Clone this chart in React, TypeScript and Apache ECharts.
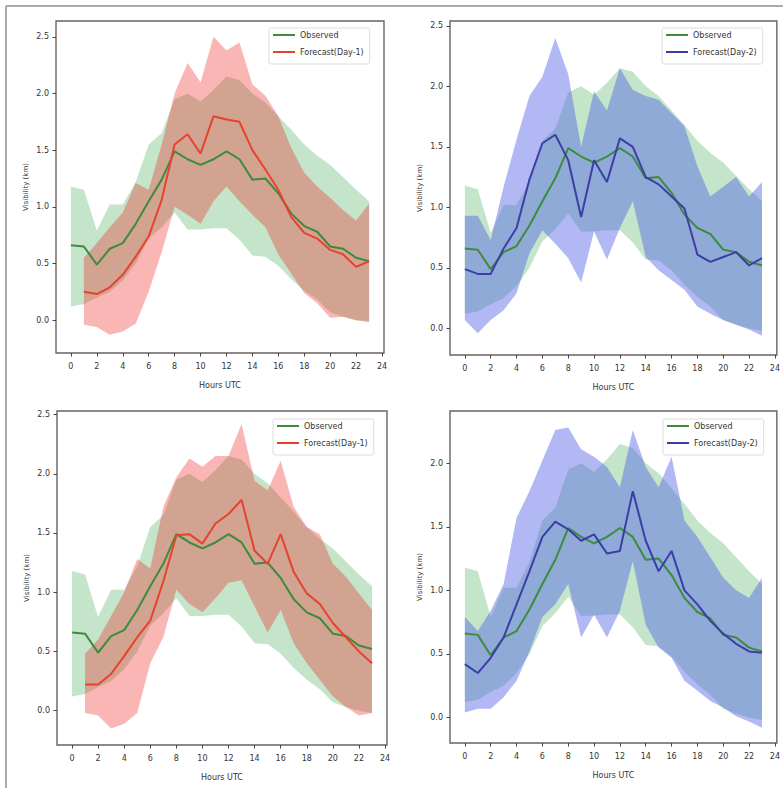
import React, { useEffect, useRef } from "react";
import * as echarts from "echarts";

// ---- data ----
const hours = [0, 1, 2, 3, 4, 5, 6, 7, 8, 9, 10, 11, 12, 13, 14, 15, 16, 17, 18, 19, 20, 21, 22, 23];
const day1Hours = [1, 2, 3, 4, 5, 6, 7, 8, 9, 10, 11, 12, 13, 14, 15, 16, 17, 18, 19, 20, 21, 22, 23];
const xTicks = [0, 2, 4, 6, 8, 10, 12, 14, 16, 18, 20, 22, 24];
const yTicksA = [0, 0.5, 1.0, 1.5, 2.0, 2.5];
const yTicksB = [0, 0.5, 1.0, 1.5, 2.0];

const observed = [0.66, 0.65, 0.49, 0.63, 0.68, 0.85, 1.05, 1.24, 1.49, 1.42, 1.37, 1.42, 1.49, 1.42, 1.24, 1.25, 1.12, 0.94, 0.83, 0.78, 0.65, 0.63, 0.55, 0.52];
const observedUpper = [1.18, 1.15, 0.79, 1.02, 1.02, 1.22, 1.55, 1.65, 1.95, 2.0, 1.93, 2.03, 2.15, 2.12, 2.0, 1.92, 1.8, 1.68, 1.55, 1.45, 1.37, 1.26, 1.15, 1.05];
const observedLower = [0.12, 0.14, 0.2, 0.25, 0.35, 0.5, 0.72, 0.82, 0.95, 0.8, 0.8, 0.81, 0.81, 0.71, 0.57, 0.56, 0.48, 0.36, 0.26, 0.18, 0.07, 0.03, 0.0, -0.02];

// top-left: Forecast(Day-1)
const fc1Line = [0.25, 0.23, 0.29, 0.4, 0.56, 0.74, 1.06, 1.55, 1.64, 1.47, 1.8, 1.77, 1.75, 1.5, 1.33, 1.15, 0.91, 0.77, 0.72, 0.62, 0.58, 0.47, 0.52];
const fc1Upper = [0.55, 0.68, 0.82, 0.95, 1.21, 1.15, 1.55, 2.0, 2.27, 2.1, 2.5, 2.38, 2.45, 2.08, 1.98, 1.8, 1.52, 1.3, 1.18, 1.08, 0.97, 0.88, 1.03];
const fc1Lower = [-0.04, -0.06, -0.13, -0.1, -0.03, 0.25, 0.6, 1.0, 0.93, 0.85, 1.05, 1.18, 1.05, 0.93, 0.82, 0.58, 0.41, 0.24, 0.15, 0.02, 0.03, 0.0, -0.01];

// top-right: Forecast(Day-2)
const fc2Line = [0.49, 0.45, 0.45, 0.66, 0.83, 1.23, 1.53, 1.6, 1.39, 0.92, 1.39, 1.21, 1.57, 1.5, 1.25, 1.19, 1.09, 0.99, 0.61, 0.55, 0.59, 0.63, 0.52, 0.58];
const fc2Upper = [0.93, 0.93, 0.73, 1.17, 1.56, 1.92, 2.08, 2.4, 2.1, 1.5, 1.96, 1.8, 2.15, 1.97, 1.92, 1.89, 1.78, 1.67, 1.34, 1.09, 1.17, 1.25, 1.09, 1.21];
const fc2Lower = [0.07, -0.04, 0.07, 0.15, 0.29, 0.62, 0.81, 0.7, 0.58, 0.38, 0.8, 0.57, 0.83, 1.05, 0.59, 0.48, 0.4, 0.32, 0.18, 0.12, 0.07, 0.03, -0.01, -0.06];

// bottom-left: Forecast(Day-1)
const fc3Line = [0.22, 0.22, 0.31, 0.46, 0.62, 0.76, 1.09, 1.48, 1.49, 1.41, 1.58, 1.66, 1.78, 1.35, 1.24, 1.49, 1.17, 0.99, 0.9, 0.74, 0.62, 0.5, 0.4];
const fc3Upper = [0.48, 0.6, 0.8, 1.0, 1.28, 1.2, 1.72, 1.97, 2.13, 2.06, 2.15, 2.15, 2.42, 1.94, 1.86, 2.11, 1.72, 1.55, 1.49, 1.24, 1.13, 0.99, 0.85];
const fc3Lower = [-0.02, -0.04, -0.15, -0.11, -0.02, 0.4, 0.62, 1.02, 0.9, 0.83, 0.95, 1.08, 1.1, 0.88, 0.66, 0.85, 0.57, 0.4, 0.26, 0.12, 0.03, -0.04, -0.02];

// bottom-right: Forecast(Day-2)
const fc4Line = [0.42, 0.35, 0.47, 0.63, 0.89, 1.15, 1.42, 1.54, 1.48, 1.39, 1.44, 1.29, 1.31, 1.78, 1.39, 1.15, 1.31, 1.0, 0.89, 0.76, 0.66, 0.58, 0.52, 0.51];
const fc4Upper = [0.79, 0.68, 0.84, 1.05, 1.57, 1.78, 2.02, 2.26, 2.28, 2.11, 2.05, 1.97, 1.81, 2.26, 1.97, 1.81, 2.05, 1.55, 1.42, 1.26, 1.1, 1.0, 0.94, 1.1];
const fc4Lower = [0.04, 0.07, 0.07, 0.16, 0.29, 0.52, 0.79, 0.89, 1.05, 0.63, 0.81, 0.63, 0.84, 1.23, 0.73, 0.55, 0.47, 0.29, 0.21, 0.13, 0.08, 0.01, -0.03, -0.08];

const names = { obs: "Observed", d1: "Forecast(Day-1)", d2: "Forecast(Day-2)" };

// ---- styles ----
const GREEN = "#3d8b3d";
const GREEN_FILL = "rgb(60,170,80)";
const RED = "#e5432e";
const RED_FILL = "rgb(240,30,30)";
const BLUE = "#3d3da6";
const PURPLE_FILL = "rgb(82,98,230)";
const FONT = "DejaVu Sans";

type Panel = {
  left: number; top: number; width: number; height: number;
  yMin: number; yMax: number; yTicks: number[];
  fcHours: number[]; line: number[]; upper: number[]; lower: number[];
  name: string; color: string; fill: string; fillOpacity: number;
  legendLeft: number; legendTop: number;
};

const panels: Panel[] = [
  { left: 56, top: 21, width: 328, height: 332, yMin: -0.29, yMax: 2.64, yTicks: yTicksA,
    fcHours: day1Hours, line: fc1Line, upper: fc1Upper, lower: fc1Lower,
    name: names.d1, color: RED, fill: RED_FILL, fillOpacity: 0.33, legendLeft: 269, legendTop: 28 },
  { left: 450, top: 21, width: 329, height: 334, yMin: -0.22, yMax: 2.54, yTicks: yTicksA,
    fcHours: hours, line: fc2Line, upper: fc2Upper, lower: fc2Lower,
    name: names.d2, color: BLUE, fill: PURPLE_FILL, fillOpacity: 0.45, legendLeft: 662, legendTop: 28 },
  { left: 57, top: 411, width: 330, height: 334, yMin: -0.29, yMax: 2.53, yTicks: yTicksA,
    fcHours: day1Hours, line: fc3Line, upper: fc3Upper, lower: fc3Lower,
    name: names.d1, color: RED, fill: RED_FILL, fillOpacity: 0.33, legendLeft: 273, legendTop: 419 },
  { left: 450, top: 411, width: 329, height: 332, yMin: -0.2, yMax: 2.41, yTicks: yTicksB,
    fcHours: hours, line: fc4Line, upper: fc4Upper, lower: fc4Lower,
    name: names.d2, color: BLUE, fill: PURPLE_FILL, fillOpacity: 0.45, legendLeft: 663, legendTop: 419 },
];

// band drawn as one polygon through the axis scales (api.coord)
function bandSeries(i: number, xs: number[], lower: number[], upper: number[], fill: string, opacity: number, z: number) {
  const data = xs.map((h, k) => [h, lower[k], upper[k]]);
  return {
    type: "custom", xAxisIndex: i, yAxisIndex: i, silent: true, z,
    encode: { x: 0, y: [1, 2] },
    data,
    renderItem: (params: any, api: any) => {
      if (params.dataIndex !== 0) return null;
      const top = data.map((d) => api.coord([d[0], d[2]]));
      const bottom = data.map((d) => api.coord([d[0], d[1]])).reverse();
      return {
        type: "polygon",
        shape: { points: top.concat(bottom) },
        style: { fill, opacity, stroke: "none" },
      };
    },
  };
}

function buildOption() {
  const series: any[] = [];
  panels.forEach((p, i) => {
    series.push(bandSeries(i, hours, observedLower, observedUpper, GREEN_FILL, 0.3, 1));
    series.push(bandSeries(i, p.fcHours, p.lower, p.upper, p.fill, p.fillOpacity, 2));
    series.push({ type: "line", xAxisIndex: i, yAxisIndex: i, symbol: "none", name: names.obs,
      color: GREEN, lineStyle: { color: GREEN, width: 2 }, itemStyle: { color: GREEN },
      data: hours.map((h, k) => [h, observed[k]]), z: 3 });
    series.push({ type: "line", xAxisIndex: i, yAxisIndex: i, symbol: "none", name: p.name,
      color: p.color, lineStyle: { color: p.color, width: 2 }, itemStyle: { color: p.color },
      data: p.fcHours.map((h, k) => [h, p.line[k]]), z: 3 });
  });

  return {
    animation: false,
    backgroundColor: "#ffffff",
    textStyle: { fontFamily: FONT },
    grid: panels.map((p) => ({
      left: p.left, top: p.top, width: p.width, height: p.height,
      show: true, borderColor: "#6a6262", borderWidth: 1.4, backgroundColor: "#ffffff",
    })),
    xAxis: panels.map((p, i) => ({
      type: "value", gridIndex: i, min: -1.15, max: 24.15,
      name: "Hours UTC", nameLocation: "middle", nameGap: 28,
      nameTextStyle: { fontSize: 8, color: "#333", fontFamily: FONT },
      axisLine: { show: false, onZero: false },
      axisTick: { show: true, length: 3.5, lineStyle: { color: "#444" }, customValues: xTicks },
      axisLabel: { customValues: xTicks, fontSize: 8, color: "#333", margin: 9, fontFamily: FONT },
      splitLine: { show: false },
    })),
    yAxis: panels.map((p, i) => ({
      type: "value", gridIndex: i, min: p.yMin, max: p.yMax,
      name: "Visibility (km)", nameLocation: "middle", nameGap: 27, nameRotate: 90,
      nameTextStyle: { fontSize: 7, color: "#333", fontFamily: FONT },
      axisLine: { show: false, onZero: false },
      axisTick: { show: true, length: 3.5, lineStyle: { color: "#444" }, customValues: p.yTicks },
      axisLabel: { customValues: p.yTicks, fontSize: 8, color: "#333", margin: 7, fontFamily: FONT,
        formatter: (v: number) => v.toFixed(1) },
      splitLine: { show: false },
    })),
    legend: panels.map((p) => ({
      left: p.legendLeft, top: p.legendTop, orient: "vertical",
      data: [{ name: names.obs, icon: "rect" }, { name: p.name, icon: "rect" }],
      itemWidth: 22, itemHeight: 2, itemGap: 9, selectedMode: false,
      textStyle: { fontSize: 8, color: "#333", fontFamily: FONT },
      backgroundColor: "rgba(255,255,255,0.85)", borderColor: "#dddddd", borderWidth: 1,
      borderRadius: 2, padding: [3, 6, 8, 4],
    })),
    graphic: [
      { type: "line", shape: { x1: 6, y1: 6, x2: 783, y2: 6 }, style: { stroke: "#aaaaaa", lineWidth: 2 }, silent: true },
      { type: "line", shape: { x1: 6, y1: 6, x2: 6, y2: 788 }, style: { stroke: "#aaaaaa", lineWidth: 2 }, silent: true },
    ],
    series,
  };
}

export default function App() {
  const ref = useRef<HTMLDivElement>(null);
  useEffect(() => {
    document.body.style.margin = "0";
    if (!ref.current) return;
    const chart = echarts.init(ref.current, null, { renderer: "svg" });
    chart.setOption(buildOption() as any);
    return () => chart.dispose();
  }, []);
  return <div ref={ref} style={{ width: 783, height: 788 }} />;
}
